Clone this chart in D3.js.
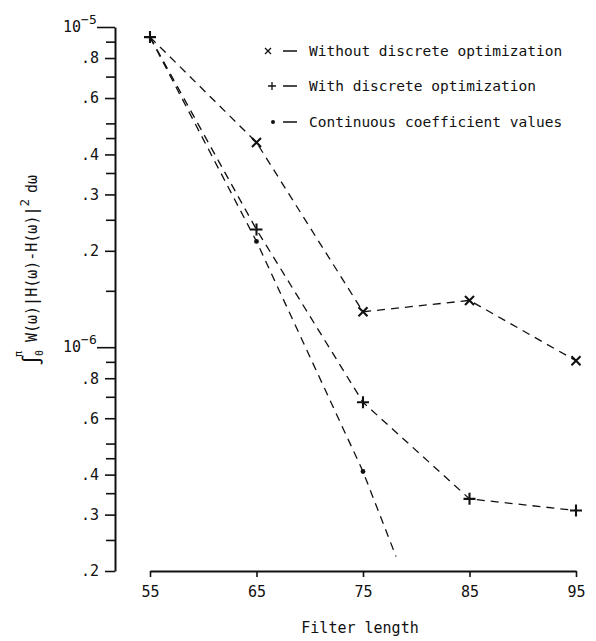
<!DOCTYPE html>
<html>
<head>
<meta charset="utf-8">
<script src="https://cdn.jsdelivr.net/npm/d3@7"></script>
<style>
  html, body { margin: 0; padding: 0; background: #fff; }
  svg { display: block; }
  text { font-family: "DejaVu Sans Mono", "Liberation Mono", monospace; fill: #111; }
</style>
</head>
<body>
<svg id="chart" width="596" height="641"></svg>
<script>
// Filter lengths and integrated weighted squared error for each design
const lengths = [55, 65, 75, 85, 95];
const withoutDiscrete = [9.3e-6, 4.36e-6, 1.29e-6, 1.40e-6, 9.07e-7];
const withDiscrete = [9.3e-6, 2.33e-6, 6.73e-7, 3.36e-7, 3.09e-7];
// continuous-coefficient trend, extended past the last computed point
const continuousLengths = [55, 65, 75, 78.1];
const continuousValues = [9.3e-6, 2.14e-6, 4.09e-7, 2.22e-7];
const continuousComputed = [65, 75];

// axis ticks
const xTicks = [55, 65, 75, 85, 95];
const yMajor = [1e-5, 8e-6, 6e-6, 4e-6, 3e-6, 2e-6, 1e-6, 8e-7, 6e-7, 4e-7, 3e-7, 2e-7];
const yMinor = [9e-6, 7e-6, 5e-6, 4.5e-6, 3.5e-6, 2.5e-6, 1.5e-6, 9e-7, 7e-7, 5e-7, 4.5e-7, 3.5e-7, 2.5e-7];
const legendLabels = ["Without discrete optimization", "With discrete optimization", "Continuous coefficient values"];

const svg = d3.select("#chart");
const ink = "#111";

const x = d3.scaleLinear().domain([55, 95]).range([150, 576]);
const y = d3.scaleLog().domain([2e-7, 1e-5]).range([571, 27]);
const axisX = 115;

// ---- y axis ----
const gy = svg.append("g").attr("transform", `translate(${axisX},0)`);
const fmtY = v => {
  const e = Math.round(Math.log10(v));
  if (Math.abs(v - Math.pow(10, e)) < 1e-12) return "";
  const m = v / Math.pow(10, Math.floor(Math.log10(v) + 1e-9) + 1);
  return "." + Math.round(m * 10);
};
gy.call(d3.axisLeft(y).tickValues(yMajor).tickSize(10).tickSizeOuter(0).tickFormat(fmtY));
gy.append("g").call(d3.axisLeft(y).tickValues(yMinor).tickSize(9).tickSizeOuter(0).tickFormat(""))
  .select(".domain").remove();
gy.selectAll(".domain").attr("stroke", ink).attr("stroke-width", 2);
gy.selectAll(".tick line").attr("stroke", ink).attr("stroke-width", 1.6);
gy.selectAll(".tick text")
  .attr("x", -16).attr("font-size", 15).attr("fill", ink)
  .style("font-family", '"DejaVu Sans Mono", monospace');
// powers of ten: longer ticks and exponent labels
gy.selectAll(".tick").filter(d => fmtY(d) === "" && yMajor.includes(d)).each(function(d) {
  const t = d3.select(this);
  t.select("line").attr("x2", -18);
  const lbl = t.select("text").attr("dy", "0.3em");
  lbl.append("tspan").text("10");
  lbl.append("tspan").attr("dy", "-0.6em").attr("font-size", 13)
    .text("\u2212" + Math.abs(Math.round(Math.log10(d))));
  lbl.attr("text-anchor", "start").attr("x", -52);
});

// ---- x axis ----
const gx = svg.append("g").attr("transform", `translate(0,${y(2e-7)})`);
gx.call(d3.axisBottom(x).tickValues(xTicks).tickSize(6).tickSizeOuter(0).tickFormat(d3.format("d")));
gx.selectAll(".domain").attr("stroke", ink).attr("stroke-width", 2);
gx.selectAll(".tick line").attr("stroke", ink).attr("stroke-width", 1.6);
gx.selectAll(".tick text").attr("y", 15).attr("dy", "0.71em").attr("font-size", 15).attr("fill", ink)
  .style("font-family", '"DejaVu Sans Mono", monospace');

svg.append("text").attr("x", 360).attr("y", 633).attr("text-anchor", "middle")
  .attr("font-size", 15).text("Filter length");

// ---- y axis title: integral of weighted squared error ----
const yt = svg.append("g").attr("transform", "translate(37,366) rotate(-90)");
yt.append("text").attr("x", 0).attr("y", 2).attr("font-size", 20).text("\u222B");
yt.append("text").attr("x", 9).attr("y", -15).attr("font-size", 10).text("\u03C0");
yt.append("text").attr("x", 10).attr("y", 6).attr("font-size", 10).text("0");
const main = yt.append("text").attr("x", 24).attr("y", 0).attr("font-size", 15);
main.append("tspan").text("W(\u03C9)|H(\u03C9)-H(\u03C9)|");
main.append("tspan").attr("dy", -8).attr("font-size", 12.5).text("2");
main.append("tspan").attr("dy", 8).attr("dx", 6).text("d\u03C9");

// ---- series ----
const line = d3.line().x(d => x(d[0])).y(d => y(d[1]));
const dash = "8,6";
const plot = svg.append("g").attr("fill", "none").attr("stroke", ink).attr("stroke-width", 1.3)
  .attr("stroke-dasharray", dash);
plot.append("path").attr("d", line(lengths.map((l, i) => [l, withoutDiscrete[i]])));
plot.append("path").attr("d", line(lengths.map((l, i) => [l, withDiscrete[i]])));
plot.append("path").attr("d", line(continuousLengths.map((l, i) => [l, continuousValues[i]])));

const marks = svg.append("g").attr("stroke", ink).attr("fill", ink);
const cross = (g, cx, cy, s, w) => g.append("path")
  .attr("d", `M${cx - s},${cy - s}L${cx + s},${cy + s}M${cx - s},${cy + s}L${cx + s},${cy - s}`)
  .attr("stroke", ink).attr("stroke-width", w).attr("fill", "none");
const plus = (g, cx, cy, s, w) => g.append("path")
  .attr("d", `M${cx - s},${cy}L${cx + s},${cy}M${cx},${cy - s}L${cx},${cy + s}`)
  .attr("stroke", ink).attr("stroke-width", w).attr("fill", "none");

// x markers (the shared starting design carries the + mark)
lengths.forEach((l, i) => { if (i > 0) cross(marks, x(l), y(withoutDiscrete[i]), 4.5, 2.1); });
lengths.forEach((l, i) => plus(marks, x(l), y(withDiscrete[i]), 6, 2.1));
continuousLengths.forEach((l, i) => {
  if (continuousComputed.includes(l))
    marks.append("circle").attr("cx", x(l)).attr("cy", y(continuousValues[i])).attr("r", 2.4).attr("stroke", "none");
});

// ---- legend ----
const legendY = [51, 86, 122];
const lg = svg.append("g");
cross(lg, 268, legendY[0], 3, 1.3);
plus(lg, 272, legendY[1], 4, 1.3);
lg.append("circle").attr("cx", 273).attr("cy", legendY[2]).attr("r", 2).attr("fill", ink);
legendLabels.forEach((t, i) => {
  lg.append("line").attr("x1", 283).attr("x2", 297).attr("y1", legendY[i]).attr("y2", legendY[i])
    .attr("stroke", ink).attr("stroke-width", 1.5);
  lg.append("text").attr("x", 309).attr("y", legendY[i]).attr("dy", "0.36em")
    .attr("font-size", 14.5).text(t);
});
</script>
</body>
</html>
